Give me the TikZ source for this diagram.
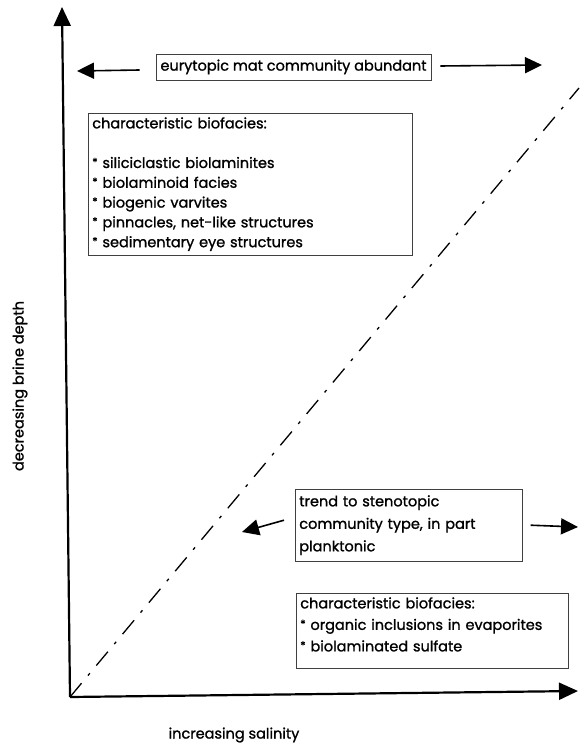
\documentclass[tikz,border=0pt]{standalone}
\usepackage{fontspec}
\setmainfont{Poppins}[FakeBold=1.2]
\usetikzlibrary{arrows.meta}
\newcommand{\biobullet}{\raisebox{2pt}{\fontsize{11}{11}\selectfont *}}

\begin{document}
\begin{tikzpicture}[x=1pt,y=-1pt,
		axisline/.style={line width=2.2pt,-{Triangle[length=19pt,width=17pt]}},
		trendarrow/.style={line width=1.6pt,-{Triangle[length=17pt,width=16pt]}},
		notebox/.style={draw=black!75,line width=0.6pt,inner xsep=4pt,inner ysep=4pt,font=\fontsize{14.5}{19.8}\selectfont}]
			%%%%% START %%%%%
			
			\useasboundingbox (0,0) rectangle (579,743);
			
			\coordinate (O) at (70,697);
			\coordinate (ytip) at (62,7);
			\coordinate (xtip) at (578,691);
			\coordinate (dtop) at (579,88);
			
			\draw[line width=1.3pt, dash pattern=on 18pt off 10pt on 3pt off 10pt] (O) -- (dtop);
			\draw[axisline] (O) -- (ytip);
			\draw[axisline] (O) -- (xtip);
			
			\node[rotate=90, font=\fontsize{14.5}{15}\selectfont] (ylabel) at (20,386) {decreasing brine depth};
			\node[font=\fontsize{14.5}{15}\selectfont] (xlabel) at (234,735) {increasing salinity};
			
			\node[notebox, minimum width=275pt, minimum height=26pt] (topnote) at (293.5,67) {eurytopic mat community abundant};
			\coordinate (topL) at (77,71);
			\coordinate (topR) at (542,65);
			\draw[trendarrow] ([xshift=-16pt,yshift=-3pt]topnote.west) -- (topL);
			\draw[trendarrow] ([xshift=9pt,yshift=1pt]topnote.east) -- (topR);
			
			\node[notebox, anchor=north west, text width=316pt, align=left] (faciesupper) at (88,113)
				{characteristic biofacies:\\ \mbox{}\\
				\biobullet{} siliciclastic biolaminites\\
				\biobullet{} biolaminoid facies\\
				\biobullet{} biogenic varvites\\
				\biobullet{} pinnacles, net-like structures\\
				\biobullet{} sedimentary eye structures};
			
			\node[notebox, anchor=north west, text width=219pt, align=left, inner ysep=6pt, font=\fontsize{14.5}{22.5}\selectfont] (trendnote) at (295,489)
				{trend to stenotopic\\
				community type, in part\\
				planktonic};
			\coordinate (trendL) at (242,532);
			\coordinate (trendR) at (578,527);
			\draw[trendarrow] ([xshift=-11pt,yshift=5pt]trendnote.west) -- (trendL);
			\draw[trendarrow] ([xshift=8pt]trendnote.east) -- (trendR);
			
			\node[notebox, anchor=north west, text width=264pt, align=left, font=\fontsize{14.5}{21.5}\selectfont] (facieslower) at (296,593)
				{characteristic biofacies:\\
				\biobullet{} organic inclusions in evaporites\\
				\biobullet{} biolaminated sulfate\rule[-13pt]{0pt}{13pt}};
			
			%%%%% END %%%%%
		\end{tikzpicture}
\end{document}
